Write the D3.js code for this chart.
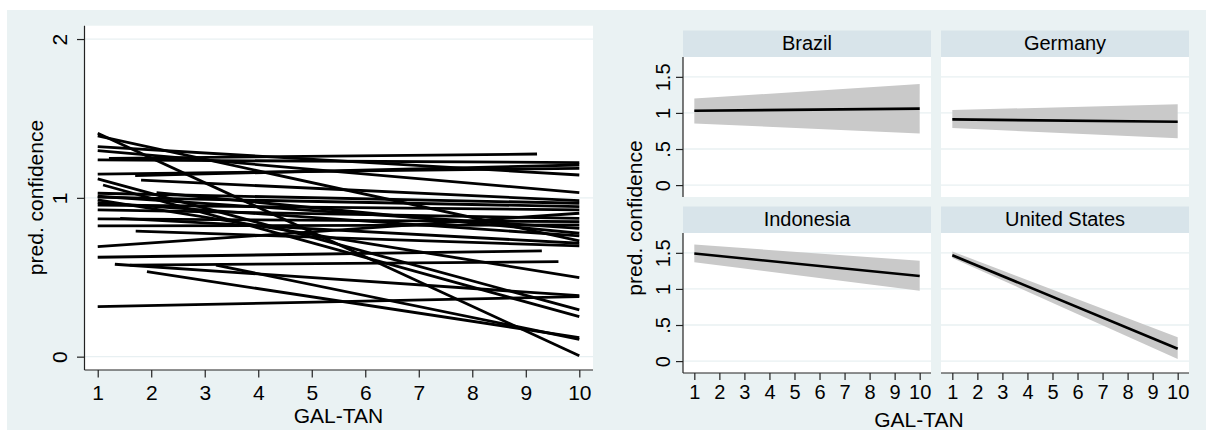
<!DOCTYPE html>
<html>
<head>
<meta charset="utf-8">
<script src="https://cdn.jsdelivr.net/npm/d3@7"></script>
<style>
  body { margin: 0; background: #fff; }
  svg { display: block; }
  text { font-family: "Liberation Sans", Arial, Helvetica, sans-serif; fill: #000; }
</style>
</head>
<body>
<svg id="chart" width="1206" height="441"></svg>
<script>
// Predicted confidence by GAL-TAN: one fitted line per country (start/end of each line)
const lineStartX = [1, 1, 1, 1, 1.21, 1, 1.70, 1, 1, 1.81, 1.10, 2.10, 1, 1, 1, 1, 1, 1.42, 1, 1, 1.71, 1, 1, 1.32, 1.60, 1.92, 3.21, 1, 1, 1];
const lineStartY = [1.407, 1.39, 1.322, 1.297, 1.249, 1.239, 1.14, 1.150, 1.119, 1.111, 1.081, 1.033, 1.029, 1.004, 0.987, 0.955, 0.924, 0.871, 0.867, 0.823, 0.79, 0.693, 0.626, 0.582, 0.577, 0.535, 0.577, 0.315, 1.01, 0.97];
const lineEndX = [10, 10, 10, 10, 9.21, 10, 10, 10, 10, 10, 10, 10, 10, 10, 10, 10, 10, 10, 10, 10, 10, 10, 9.30, 10, 9.61, 10, 10, 10, 10, 10];
const lineEndY = [0.006, 0.729, 1.144, 1.033, 1.276, 1.222, 1.207, 1.186, 0.294, 0.982, 0.252, 0.777, 0.966, 0.945, 0.498, 0.924, 0.871, 0.714, 0.850, 0.829, 0.697, 0.903, 0.666, 0.384, 0.598, 0.120, 0.109, 0.378, 0.808, 0.760];

// Selected countries: prediction and 95% interval at GAL-TAN = 1 and 10
const panelCountries = ["Brazil", "Germany", "Indonesia", "United States"];
const fitAt1 = [1.03, 0.91, 1.49, 1.467];
const fitAt10 = [1.06, 0.877, 1.18, 0.17];
const lowerAt1 = [0.855, 0.79, 1.37, 1.43];
const lowerAt10 = [0.716, 0.65, 0.976, 0.03];
const upperAt1 = [1.20, 1.04, 1.615, 1.52];
const upperAt10 = [1.40, 1.12, 1.39, 0.33];

const xTicks = [1, 2, 3, 4, 5, 6, 7, 8, 9, 10];
const leftYTicks = [0, 1, 2];
const panelYTicks = [0, 0.5, 1, 1.5];
const panelYTickLabels = ["0", ".5", "1", "1.5"];
const xTitle = "GAL-TAN";
const yTitle = "pred. confidence";

const BG = "#eaf2f3", STRIP = "#d8e4ea", GRID = "#e8f0f2", BAND = "#c9c9c9", AXIS = "#222";

const svg = d3.select("#chart");
svg.append("rect").attr("x", 7).attr("y", 10).attr("width", 1199).attr("height", 420).attr("fill", BG);

function styleAxis(g) {
  g.selectAll(".domain").attr("stroke", AXIS).attr("stroke-width", 1.2);
  g.selectAll(".tick line").attr("stroke", AXIS).attr("stroke-width", 1.2);
}

// ---------- left graph: all countries ----------
const L = { x0: 84.5, x1: 593, y0: 25.7, y1: 370 };
const xL = d3.scaleLinear().domain([0.753, 10.256]).range([L.x0, L.x1]);
const yL = d3.scaleLinear().domain([-0.084, 2.084]).range([L.y1, L.y0]);

svg.append("rect").attr("x", L.x0).attr("y", L.y0).attr("width", L.x1 - L.x0).attr("height", L.y1 - L.y0).attr("fill", "#fff");
svg.append("g").selectAll("line").data(leftYTicks).join("line")
  .attr("x1", L.x0).attr("x2", L.x1).attr("y1", d => yL(d)).attr("y2", d => yL(d))
  .attr("stroke", GRID).attr("stroke-width", 1.3);

const lines = lineStartX.map((sx, i) => [[sx, lineStartY[i]], [lineEndX[i], lineEndY[i]]]);
const lineGen = d3.line().x(d => xL(d[0])).y(d => yL(d[1]));
svg.append("g").selectAll("path").data(lines).join("path")
  .attr("d", lineGen).attr("fill", "none").attr("stroke", "#000").attr("stroke-width", 2.8);

const gyL = svg.append("g").attr("transform", `translate(${L.x0},0)`)
  .call(d3.axisLeft(yL).tickValues(leftYTicks).tickSize(7.5).tickSizeOuter(0).tickFormat(d3.format("d")));
styleAxis(gyL);
gyL.selectAll(".tick text").attr("transform", "rotate(-90)").attr("x", 0).attr("y", -18).attr("dy", 0)
  .attr("text-anchor", "middle").style("font-size", "21px").attr("fill", "#000");

const gxL = svg.append("g").attr("transform", `translate(0,${L.y1})`)
  .call(d3.axisBottom(xL).tickValues(xTicks).tickSize(7.5).tickSizeOuter(0).tickFormat(d3.format("d")));
styleAxis(gxL);
gxL.selectAll(".tick text").attr("y", 30).attr("dy", 0).style("font-size", "21px").attr("fill", "#000");
gxL.select(".domain").attr("d", `M${L.x0},0H${L.x1}`);
gyL.select(".domain").attr("d", `M0,${L.y1}V${L.y0}`);

svg.append("text").attr("x", 338.5).attr("y", 423.3).attr("text-anchor", "middle").style("font-size", "21px").text(xTitle);
svg.append("text").attr("transform", "translate(43.3,197.5) rotate(-90)").attr("text-anchor", "middle").style("font-size", "21px").text(yTitle);

// ---------- right graph: selected countries ----------
const colX = [683, 941], panelW = 248;
const rowY = [57, 233], panelH = 140, stripH = 26.5;
const yP = d3.scaleLinear().domain([-0.165, 1.775]).range([panelH, 0]);
const xP = d3.scaleLinear().domain([0.548, 10.452]).range([0, panelW]);
const band = d3.area().x(d => xP(d.x)).y0(d => yP(d.lo)).y1(d => yP(d.hi));
const fit = d3.line().x(d => xP(d.x)).y(d => yP(d.y));

panelCountries.forEach((name, i) => {
  const col = i % 2, row = Math.floor(i / 2);
  const g = svg.append("g").attr("transform", `translate(${colX[col]},${rowY[row]})`);
  g.append("rect").attr("x", 0).attr("y", -stripH).attr("width", panelW).attr("height", stripH).attr("fill", STRIP);
  g.append("text").attr("x", panelW / 2).attr("y", -7.5).attr("text-anchor", "middle").style("font-size", "20px").text(name);
  g.append("rect").attr("width", panelW).attr("height", panelH).attr("fill", "#fff");
  g.selectAll("line.grid").data(panelYTicks).join("line").attr("class", "grid")
    .attr("x1", 0).attr("x2", panelW).attr("y1", d => yP(d)).attr("y2", d => yP(d))
    .attr("stroke", GRID).attr("stroke-width", 1.3);
  const ci = [{ x: 1, lo: lowerAt1[i], hi: upperAt1[i] }, { x: 10, lo: lowerAt10[i], hi: upperAt10[i] }];
  g.append("path").attr("d", band(ci)).attr("fill", BAND);
  g.append("path").attr("d", fit([{ x: 1, y: fitAt1[i] }, { x: 10, y: fitAt10[i] }]))
    .attr("fill", "none").attr("stroke", "#000").attr("stroke-width", 2.6);

  if (col === 0) {
    const gy = g.append("g").call(d3.axisLeft(yP).tickValues(panelYTicks).tickSize(7).tickSizeOuter(0)
      .tickFormat((d, k) => panelYTickLabels[k]));
    styleAxis(gy);
    gy.select(".domain").attr("d", `M0,${panelH}V0`);
    gy.selectAll(".tick text").attr("transform", "rotate(-90)").attr("x", 0).attr("y", -13).attr("dy", 0)
      .attr("text-anchor", "middle").style("font-size", "20px").attr("fill", "#000");
  }
  if (row === 1) {
    const gx = g.append("g").attr("transform", `translate(0,${panelH})`)
      .call(d3.axisBottom(xP).tickValues(xTicks).tickSize(7).tickSizeOuter(0).tickFormat(d3.format("d")));
    styleAxis(gx);
    gx.select(".domain").attr("d", `M0,0H${panelW}`);
    gx.selectAll(".tick text").attr("y", 26).attr("dy", 0).style("font-size", "20px").attr("fill", "#000");
  }
});

svg.append("text").attr("x", 919).attr("y", 426.7).attr("text-anchor", "middle").style("font-size", "21px").text(xTitle);
svg.append("text").attr("transform", "translate(642,218) rotate(-90)").attr("text-anchor", "middle").style("font-size", "21px").text(yTitle);
</script>
</body>
</html>
